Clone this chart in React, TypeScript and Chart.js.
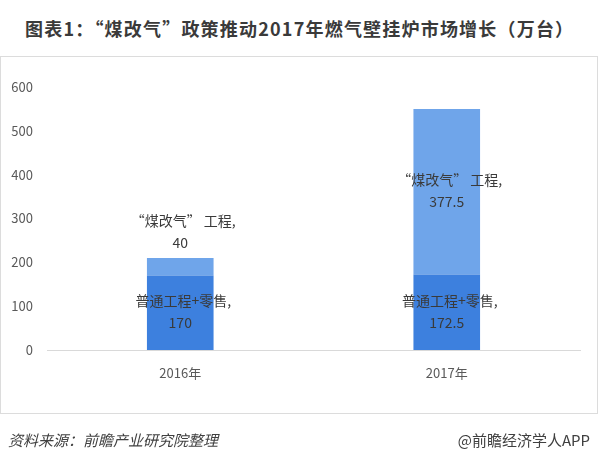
import React, { useEffect, useRef } from "react";
import { Chart, registerables } from "chart.js";

Chart.register(...registerables);

const categories = ["2016年", "2017年"];
const baseName = "普通工程+零售";
const baseValues = [170, 172.5];
const coalName = "“煤改气” 工程";
const coalValues = [40, 377.5];
const yTicks = [0, 100, 200, 300, 400, 500, 600];

const TITLE = "图表1：“煤改气”政策推动2017年燃气壁挂炉市场增长（万台）";
const SOURCE = "资料来源：前瞻产业研究院整理";
const BRAND = "@前瞻经济学人APP";

const FONT = "'Noto Sans CJK SC', 'Noto Sans', sans-serif";

const labelPlugin = {
  id: "segLabels",
  afterDatasetsDraw(chart: any) {
    const ctx = chart.ctx;
    ctx.save();
    ctx.font = `14px ${FONT}`;
    ctx.fillStyle = "#3a3a3a";
    ctx.textAlign = "center";
    ctx.textBaseline = "middle";
    chart.data.datasets.forEach((ds: any, di: number) => {
      const meta = chart.getDatasetMeta(di);
      meta.data.forEach((bar: any, i: number) => {
        const top = Math.min(bar.y, bar.base);
        const bottom = Math.max(bar.y, bar.base);
        const h = bottom - top;
        const line1 = ds.label + ",";
        const line2 = String(ds.data[i]);
        let cy: number;
        if (h < 50) {
          cy = top - 26;
        } else {
          cy = (top + bottom) / 2 - 1;
        }
        ctx.fillText(line1, bar.x + 3, cy - 11);
        ctx.fillText(line2, bar.x, cy + 11);
      });
    });
    ctx.restore();
  },
};

export default function App() {
  const ref = useRef<HTMLCanvasElement>(null);
  useEffect(() => {
    document.body.style.margin = "0";
    const chart = new Chart(ref.current!, {
      type: "bar",
      data: {
        labels: categories,
        datasets: [
          {
            label: baseName,
            data: baseValues,
            backgroundColor: "#3d80de",
            categoryPercentage: 1,
            barPercentage: 0.25,
          },
          {
            label: coalName,
            data: coalValues,
            backgroundColor: "#6fa5ea",
            categoryPercentage: 1,
            barPercentage: 0.25,
          },
        ],
      },
      options: {
        animation: false,
        responsive: false,
        maintainAspectRatio: false,
        layout: { padding: { left: 0, right: 20, top: 87, bottom: 0 } },
        plugins: {
          legend: { display: false },
          tooltip: { enabled: false },
          title: { display: false },
        },
        scales: {
          x: {
            stacked: true,
            grid: { display: false, drawTicks: false },
            border: { display: true, color: "#d9d9d9", width: 1 },
            ticks: {
              padding: 15,
              color: "#595959",
              font: { family: FONT, size: 13 },
            },
            afterFit(scale: any) {
              scale.height = 114;
            },
          },
          y: {
            stacked: true,
            min: 0,
            max: 600,
            afterBuildTicks(scale: any) {
              scale.ticks = yTicks.map((v) => ({ value: v }));
            },
            grid: { display: false, drawTicks: false },
            border: { display: false },
            ticks: {
              padding: 14,
              color: "#595959",
              font: { family: FONT, size: 13 },
            },
            afterFit(scale: any) {
              scale.width = 47;
            },
          },
        },
      },
      plugins: [labelPlugin],
    });
    return () => chart.destroy();
  }, []);

  return (
    <div style={{ position: "relative", width: 600, height: 464, background: "#fff", overflow: "hidden" }}>
      <div
        style={{
          position: "absolute",
          left: 25,
          top: 16,
          fontFamily: FONT,
          fontWeight: "bold",
          fontSize: 18,
          lineHeight: "24px",
          letterSpacing: "1.2px",
          color: "#3a3a3a",
          whiteSpace: "nowrap",
        }}
      >
        {TITLE}
      </div>
      <div
        style={{
          position: "absolute",
          left: 0,
          top: 56,
          width: 596,
          height: 356,
          border: "1px solid #dcdcdc",
        }}
      />
      <canvas ref={ref} width={600} height={464} style={{ position: "absolute", left: 0, top: 0 }} />
      <div
        style={{
          position: "absolute",
          left: 8,
          top: 430,
          fontFamily: FONT,
          fontStyle: "italic",
          fontSize: 15,
          lineHeight: "20px",
          color: "#404040",
          whiteSpace: "nowrap",
        }}
      >
        {SOURCE}
      </div>
      <div
        style={{
          position: "absolute",
          right: 10,
          top: 430,
          fontFamily: FONT,
          fontSize: 15,
          lineHeight: "20px",
          color: "#404040",
          whiteSpace: "nowrap",
        }}
      >
        {BRAND}
      </div>
    </div>
  );
}
